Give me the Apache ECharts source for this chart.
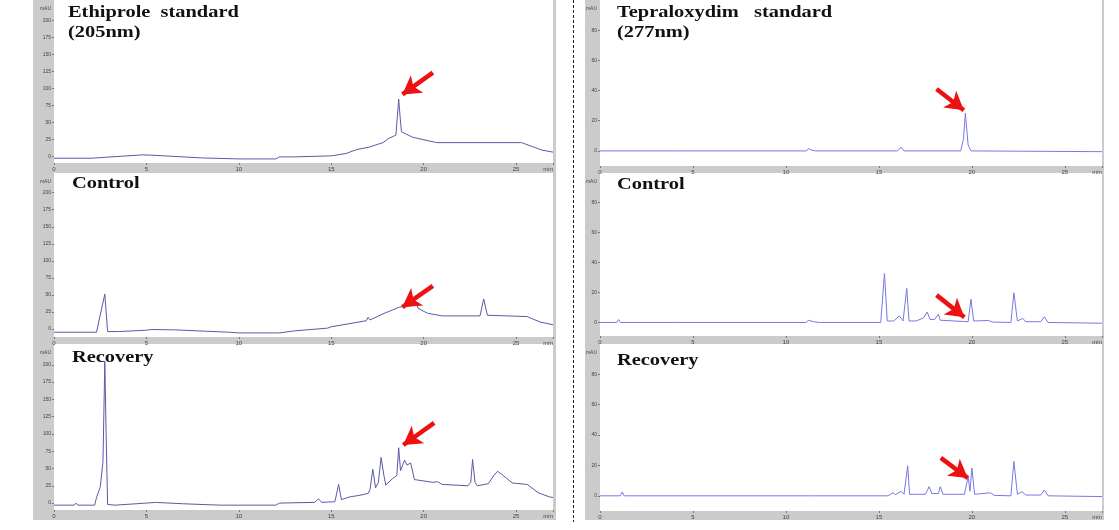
<!DOCTYPE html>
<html><head><meta charset="utf-8">
<script src="https://cdn.jsdelivr.net/npm/echarts@6/dist/echarts.min.js"></script>
<style>html,body{margin:0;padding:0;background:#fff}#c{width:1119px;height:530px}</style>
</head><body><div id="c"></div>
<script>
// ---- data (retention time in min, absorbance in mAU) ----
const xTicks = [0, 5, 10, 15, 20, 25, 27];
const leftYTicks = [0, 25, 50, 75, 100, 125, 150, 175, 200];
const rightYTicks = [0, 20, 40, 60, 80];

const titlesLeft = ['Ethiprole  standard', 'Control', 'Recovery'];
const subtitleLeft = '(205nm)';
const titlesRight = ['Tepraloxydim   standard', 'Control', 'Recovery'];
const subtitleRight = '(277nm)';

const ethiproleStd = [[0,-3],[2,-3],[4.8,2],[5.3,1.5],[8,-2.5],[10,-4],[12,-4],[12.2,-1],[13,-1],[15,0.5],[15.8,4],[16.4,10],[17,13],[17.8,20],[18.1,26],[18.5,31],[18.6,33],[18.65,84],[18.72,60],[18.8,36],[19.4,28],[20.7,20],[25.3,20],[25.8,15],[26.4,9],[27,6]];
const ethiproleCtrl = [[0,-5],[2.3,-5],[2.75,51],[2.9,-4],[3.5,-4],[5,-2],[5.3,-1],[6.5,-1.5],[9.5,-5],[10,-6],[12.2,-6],[13,-3],[14.8,1],[15,3],[15.1,1],[16.5,10],[16.9,12],[17,17],[17.1,13],[17.8,22],[18.7,32],[19.4,34],[19.6,37],[19.7,30],[20.2,23],[21,19],[23.05,19],[23.25,44],[23.45,20],[25.6,18],[26.3,10],[27,6]];
const ethiproleRec = [[0,-3],[1.1,-3],[1.2,0],[1.3,-3],[2.2,-3],[2.3,8],[2.5,23],[2.65,60],[2.75,205],[2.82,100],[2.9,-2],[3.3,-3],[5,0],[5.5,1],[7,-1],[9,-3],[12,-3],[12.2,0],[14.1,1],[14.3,6],[14.5,1],[15.2,2],[15.4,27],[15.55,5],[16,9],[16.5,11],[17,14],[17.1,20],[17.25,49],[17.4,22],[17.55,30],[17.7,66],[17.85,40],[17.95,26],[18.3,35],[18.55,40],[18.65,80],[18.75,47],[18.8,47],[18.97,62],[19.1,55],[19.3,58],[19.5,34],[20.5,30],[20.75,31],[21,27],[22.4,25],[22.55,30],[22.65,63],[22.78,30],[22.9,25],[23.5,28],[23.8,40],[24.0,46],[24.3,40],[24.8,29],[25.6,27],[26.2,15],[26.8,9],[27,8]];

const tepraStd = [[0,0],[4.0,0],[4.1,1.2],[4.2,0],[11.1,0],[11.2,1.5],[11.4,0.5],[11.6,0],[16.0,0],[16.2,2.5],[16.35,0],[19.4,0],[19.55,8],[19.65,25],[19.8,4],[19.95,0],[27,-0.5]];
const tepraCtrl = [[0,0],[0.9,0],[1.0,2],[1.1,0],[4.0,0],[4.1,1],[4.2,0],[11.1,0],[11.2,1.5],[11.5,0.5],[11.8,0],[15.1,0],[15.3,32.6],[15.45,1],[15.8,1],[16.1,4.4],[16.3,1],[16.4,1],[16.5,22.7],[16.62,1],[17.0,1],[17.4,3],[17.6,7],[17.75,2],[18.0,2],[18.2,5.5],[18.3,1.5],[19.8,0.5],[19.95,15.5],[20.1,1],[20.9,1.3],[21.1,0.3],[22.1,0],[22.26,19.7],[22.45,1],[22.74,2.7],[22.9,0.5],[23.7,0.5],[23.9,3.7],[24.1,0],[27,-0.5]];
const tepraRec = [[0,0],[1.1,0],[1.2,2.5],[1.3,0],[4.2,0],[4.3,0.8],[4.4,0],[11.2,0],[11.3,1],[11.5,0],[15.5,0],[15.75,2],[15.9,0.8],[16.2,3],[16.35,1],[16.45,1],[16.55,19.8],[16.65,1],[17.5,1],[17.7,6],[17.85,1.5],[18.2,1.5],[18.3,6],[18.45,1],[19.6,1],[19.8,12.7],[19.9,3],[20.0,18.3],[20.15,1],[21.0,2],[21.2,0.3],[22.1,0],[22.26,22.7],[22.45,1],[22.7,2.7],[22.9,0.5],[23.7,0.5],[23.9,3.8],[24.1,0],[27,-0.5]];

// arrow annotations: [tail, tip] in data coordinates
const arrowEthStd = [[20.5,123],[18.85,91]];
const arrowEthCtrl = [[20.5,63],[18.85,32]];
const arrowEthRec = [[20.57,116],[18.9,84]];
const arrowTepStd = [[18.1,41],[19.57,27]];
const arrowTepCtrl = [[18.1,18.2],[19.6,3.5]];
const arrowTepRec = [[18.33,25],[19.78,11.7]];

// ---- layout ----
const panels = [
  {grid:{left:54, top:0, width:499, height:163}, yMin:-10, yMax:230, ticks:leftYTicks, data:ethiproleStd, arrow:arrowEthStd, color:'#5a5aa8'},
  {grid:{left:54, top:173, width:499, height:164}, yMin:-12, yMax:229, ticks:leftYTicks, data:ethiproleCtrl, arrow:arrowEthCtrl, color:'#5a5aa8'},
  {grid:{left:54, top:344, width:499, height:166}, yMin:-10, yMax:230, ticks:leftYTicks, data:ethiproleRec, arrow:arrowEthRec, color:'#5a5aa8'},
  {grid:{left:600, top:0, width:502, height:166}, yMin:-10, yMax:100, ticks:rightYTicks, data:tepraStd, arrow:arrowTepStd, color:'#7878e4'},
  {grid:{left:600, top:173, width:502, height:163}, yMin:-9, yMax:99.5, ticks:rightYTicks, data:tepraCtrl, arrow:arrowTepCtrl, color:'#7878e4'},
  {grid:{left:600, top:344, width:502, height:167}, yMin:-10, yMax:100, ticks:rightYTicks, data:tepraRec, arrow:arrowTepRec, color:'#7878e4'}
];

const grids = [], xAxes = [], yAxes = [], series = [];
panels.forEach((p, i) => {
  grids.push(Object.assign({show:true, backgroundColor:'#ffffff', borderWidth:0}, p.grid));
  xAxes.push({
    type:'value', gridIndex:i, min:0, max:27,
    axisLine:{show:false, onZero:false}, splitLine:{show:false},
    axisTick:{show:true, customValues:xTicks, length:2, lineStyle:{color:'#777'}},
    axisLabel:{customValues:xTicks, fontSize:6, color:'#444', margin:3,
      formatter:v => v === 27 ? 'min' : String(v), alignMaxLabel:'right'}
  });
  yAxes.push({
    type:'value', gridIndex:i, min:p.yMin, max:p.yMax,
    name:'mAU', nameLocation:'end', nameGap:-6,
    nameTextStyle:{fontSize:5, color:'#444', align:'right', verticalAlign:'top', padding:[0,3,0,0]},
    axisLine:{show:false, onZero:false}, splitLine:{show:false},
    axisTick:{show:true, customValues:p.ticks, length:2, lineStyle:{color:'#777'}},
    axisLabel:{customValues:p.ticks, fontSize:5, color:'#444', margin:3}
  });
  series.push({
    type:'line', xAxisIndex:i, yAxisIndex:i, data:p.data, symbol:'none',
    lineStyle:{color:p.color, width:1}, animation:false, silent:true,
    markLine:{
      silent:true, animation:false, symbol:['none','arrow'], symbolSize:[16,18],
      label:{show:false},
      lineStyle:{color:'#ee1111', width:4.5, type:'solid'},
      emphasis:{disabled:true},
      data:[[{coord:p.arrow[0]}, {coord:p.arrow[1]}]]
    }
  });
});

const titleFont = {fontFamily:'Liberation Serif', fontWeight:'bold', fontSize:17, fill:'#111'};
function txt(x, y, t) {
  return {type:'text', x:x, y:y, scaleX:1.2, z:100, style:Object.assign({text:t}, titleFont)};
}

const graphic = [
  {type:'rect', z:-10, shape:{x:33, y:0, width:523, height:520}, style:{fill:'#cbcbcb'}},
  {type:'rect', z:-10, shape:{x:585, y:0, width:519, height:520}, style:{fill:'#cbcbcb'}},
  {type:'line', z:-10, shape:{x1:573.5, y1:0, x2:573.5, y2:522}, style:{stroke:'#222', lineWidth:1, lineDash:[3,2]}},
  txt(68, 4, titlesLeft[0]), txt(68, 24, subtitleLeft),
  txt(72, 175, titlesLeft[1]), txt(72, 349, titlesLeft[2]),
  txt(617, 4, titlesRight[0]), txt(617, 24, subtitleRight),
  txt(617, 176, titlesRight[1]), txt(617, 352, titlesRight[2])
];

const chart = echarts.init(document.getElementById('c'), null, {renderer:'canvas'});
chart.setOption({
  animation:false, backgroundColor:'#ffffff',
  grid:grids, xAxis:xAxes, yAxis:yAxes, series:series, graphic:graphic
});
</script></body></html>
